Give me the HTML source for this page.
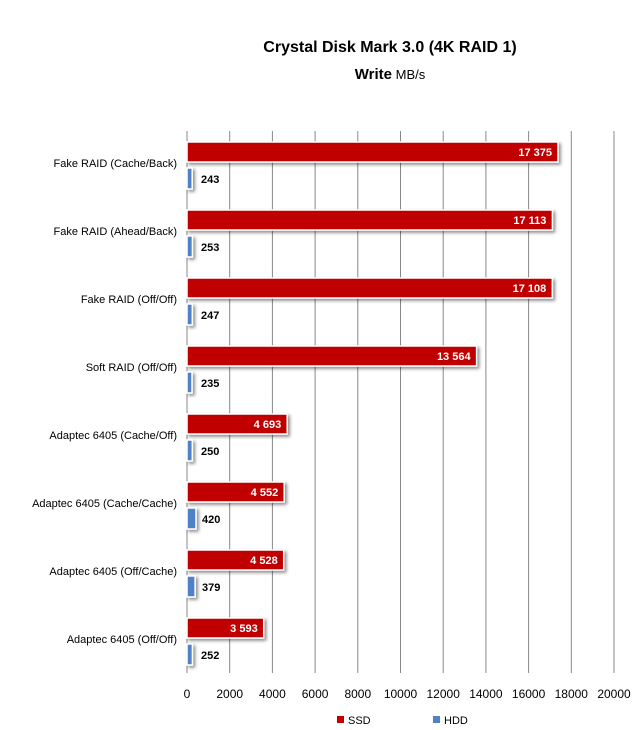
<!DOCTYPE html>
<html><head><meta charset="utf-8"><style>
body{margin:0;background:#fff;}
svg{display:block;font-family:"Liberation Sans",sans-serif;}
</style></head><body>
<svg width="640" height="730" viewBox="0 0 640 730">
<defs><filter id="sh" x="-10%" y="-30%" width="130%" height="180%"><feDropShadow dx="2" dy="2" stdDeviation="1.5" flood-color="#000" flood-opacity="0.45"/></filter></defs>
<text x="390" y="52" text-anchor="middle" font-size="16" font-weight="bold" fill="#000">Crystal Disk Mark 3.0 (4K RAID 1)</text>
<text x="390" y="79" text-anchor="middle" font-size="13" fill="#000"><tspan font-weight="bold" font-size="15">Write</tspan> MB/s</text>
<g stroke="#888" stroke-width="1">
<line x1="229.7" y1="131" x2="229.7" y2="673"/>
<line x1="272.4" y1="131" x2="272.4" y2="673"/>
<line x1="315.1" y1="131" x2="315.1" y2="673"/>
<line x1="357.8" y1="131" x2="357.8" y2="673"/>
<line x1="400.5" y1="131" x2="400.5" y2="673"/>
<line x1="443.2" y1="131" x2="443.2" y2="673"/>
<line x1="485.9" y1="131" x2="485.9" y2="673"/>
<line x1="528.6" y1="131" x2="528.6" y2="673"/>
<line x1="571.3" y1="131" x2="571.3" y2="673"/>
<line x1="614" y1="131" x2="614" y2="673"/>
<line x1="187" y1="131" x2="187" y2="673"/>
</g>
<g stroke="#fff" stroke-width="1.5" filter="url(#sh)">
<rect x="187" y="142" width="371" height="20" fill="#c00000"/>
<rect x="187" y="168" width="5.2" height="21" fill="#4f81c9"/>
<rect x="187" y="210" width="365.4" height="20" fill="#c00000"/>
<rect x="187" y="236" width="5.4" height="21" fill="#4f81c9"/>
<rect x="187" y="278" width="365.3" height="20" fill="#c00000"/>
<rect x="187" y="304" width="5.3" height="21" fill="#4f81c9"/>
<rect x="187" y="346" width="289.6" height="20" fill="#c00000"/>
<rect x="187" y="372" width="5" height="21" fill="#4f81c9"/>
<rect x="187" y="414" width="100.2" height="20" fill="#c00000"/>
<rect x="187" y="440" width="5.3" height="21" fill="#4f81c9"/>
<rect x="187" y="482" width="97.2" height="20" fill="#c00000"/>
<rect x="187" y="508" width="9" height="21" fill="#4f81c9"/>
<rect x="187" y="550" width="96.7" height="20" fill="#c00000"/>
<rect x="187" y="576" width="8.1" height="21" fill="#4f81c9"/>
<rect x="187" y="618" width="76.7" height="20" fill="#c00000"/>
<rect x="187" y="644" width="5.4" height="21" fill="#4f81c9"/>
</g>
<g font-size="11" font-weight="bold" fill="#fff" text-anchor="end">
<text x="552" y="156">17 375</text>
<text x="546.4" y="224">17 113</text>
<text x="546.3" y="292">17 108</text>
<text x="470.6" y="360">13 564</text>
<text x="281.2" y="428">4 693</text>
<text x="278.2" y="496">4 552</text>
<text x="277.7" y="564">4 528</text>
<text x="257.7" y="632">3 593</text>
</g>
<g font-size="11" font-weight="bold" fill="#000">
<text x="201" y="183">243</text>
<text x="201" y="251">253</text>
<text x="201" y="319">247</text>
<text x="201" y="387">235</text>
<text x="201" y="455">250</text>
<text x="202" y="523">420</text>
<text x="202" y="591">379</text>
<text x="201" y="659">252</text>
</g>
<g font-size="11" fill="#000" text-anchor="end">
<text x="177" y="167">Fake RAID (Cache/Back)</text>
<text x="177" y="235">Fake RAID (Ahead/Back)</text>
<text x="177" y="303">Fake RAID (Off/Off)</text>
<text x="177" y="371">Soft RAID (Off/Off)</text>
<text x="177" y="439">Adaptec 6405 (Cache/Off)</text>
<text x="177" y="507">Adaptec 6405 (Cache/Cache)</text>
<text x="177" y="575">Adaptec 6405 (Off/Cache)</text>
<text x="177" y="643">Adaptec 6405 (Off/Off)</text>
</g>
<g font-size="12" fill="#000" text-anchor="middle">
<text x="187" y="698">0</text><text x="229.7" y="698">2000</text><text x="272.4" y="698">4000</text><text x="315.1" y="698">6000</text><text x="357.8" y="698">8000</text><text x="400.5" y="698">10000</text><text x="443.2" y="698">12000</text><text x="485.9" y="698">14000</text><text x="528.6" y="698">16000</text><text x="571.3" y="698">18000</text><text x="614" y="698">20000</text>
</g>
<rect x="337" y="716" width="7" height="7" fill="#c00000"/>
<text x="348" y="724" font-size="11">SSD</text>
<rect x="433" y="716" width="7" height="7" fill="#4f81c9"/>
<text x="444" y="724" font-size="11">HDD</text>
</svg>
</body></html>
